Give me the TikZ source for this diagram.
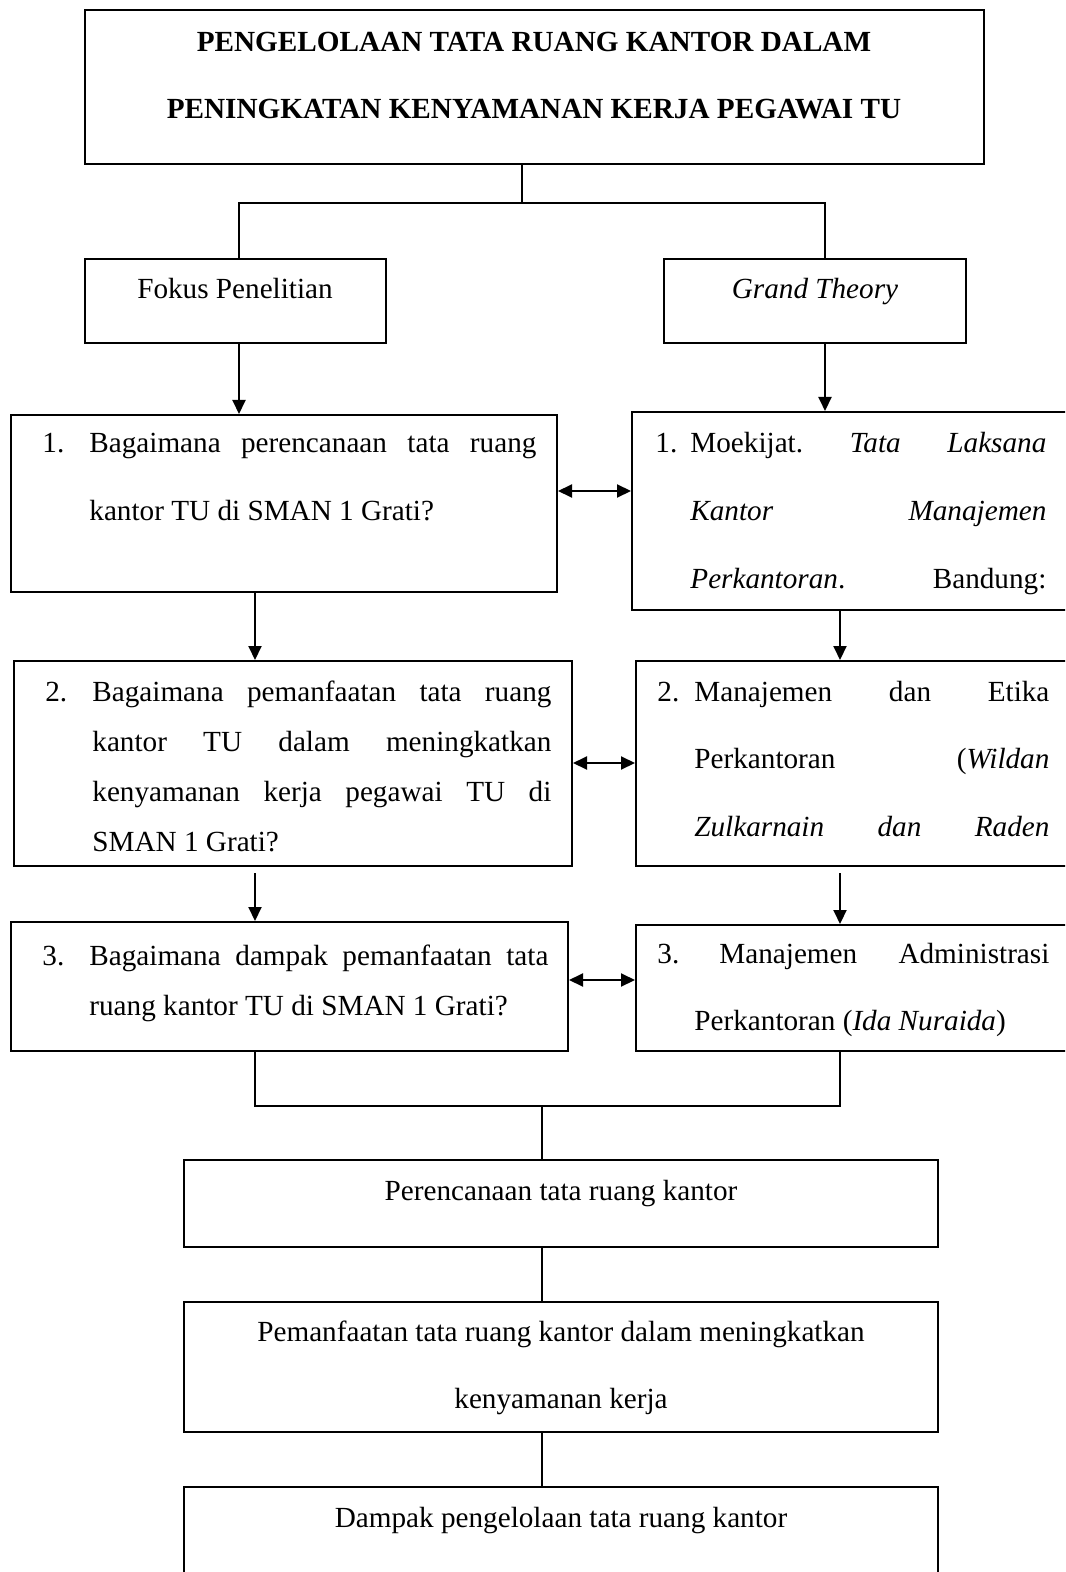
\documentclass[tikz,border=0pt]{standalone}
\usepackage{fontspec}
\setmainfont{Liberation Serif}
\usetikzlibrary{fit,arrows.meta}
\begin{document}
\begin{tikzpicture}[x=0.5pt,y=-0.5pt,
  box/.style={draw,line width=1pt,inner sep=0pt},
  txt/.style={inner sep=0pt,anchor=base west,yshift=-1pt,font=\fontsize{14.6pt}{17pt}\selectfont},
  ctxt/.style={txt,anchor=base},
  conn/.style={line width=1pt},
  arr/.style={conn,-{Triangle[length=7pt,width=6.5pt]}},
  darr/.style={conn,{Triangle[length=7pt,width=6.5pt]}-{Triangle[length=7pt,width=6.5pt]}}]
\fill[white] (0,0) rectangle (1065,1572);
\path[clip,use as bounding box] (0,0) rectangle (1065,1572);
% boxes
\node[box,line width=1.4pt,fit={(85,10)(984,164)}] (title) {};
\node[box,fit={(85,259)(386,343)}] (fokus) {};
\node[box,fit={(664,259)(966,343)}] (grand) {};
\node[box,fit={(11,415)(557,592)}] (l1) {};
\node[box,fit={(632,412)(1085,610)}] (r1) {};
\node[box,fit={(14,661)(572,866)}] (l2) {};
\node[box,fit={(636,661)(1085,866)}] (r2) {};
\node[box,fit={(11,922)(568,1051)}] (l3) {};
\node[box,fit={(636,925)(1085,1051)}] (r3) {};
\node[box,fit={(184,1160)(938,1247)}] (p1) {};
\node[box,fit={(184,1302)(938,1432)}] (p2) {};
\node[box,fit={(184,1487)(938,1600)}] (p3) {};
% coordinates
\coordinate (tj) at (522,203);
\coordinate (hl) at (239,203);
\coordinate (hr) at (825,203);
\coordinate (lx) at (255,0);
\coordinate (rx) at (840,0);
\coordinate (ls) at (255,873);
\coordinate (rs) at (840,873);
\coordinate (bl) at (255,1106);
\coordinate (br) at (840,1106);
\coordinate (bj) at (542,1106);
\coordinate (d1) at (0,491);
\coordinate (d2) at (0,763);
\coordinate (d3) at (0,980);
% connectors
\draw[conn] (title.south -| tj) -- (tj);
\draw[conn] (fokus.north -| hl) -- (hl) -- (hr) -- (grand.north -| hr);
\draw[arr] (fokus.south -| hl) -- (l1.north -| hl);
\draw[arr] (grand.south -| hr) -- (r1.north -| hr);
\draw[arr] (l1.south -| lx) -- (l2.north -| lx);
\draw[arr] (r1.south -| rx) -- (r2.north -| rx);
\draw[arr] (ls) -- (l3.north -| lx);
\draw[arr] (rs) -- (r3.north -| rx);
\draw[conn] (l3.south -| lx) -- (bl) -- (br) -- (r3.south -| rx);
\draw[conn] (bj) -- (p1.north -| bj);
\draw[conn] (p1.south -| bj) -- (p2.north -| bj);
\draw[conn] (p2.south -| bj) -- (p3.north -| bj);
\draw[darr] (l1.east |- d1) -- (r1.west |- d1);
\draw[darr] (l2.east |- d2) -- (r2.west |- d2);
\draw[darr] (l3.east |- d3) -- (r3.west |- d3);
% texts
\node[ctxt,font=\fontsize{14.6pt}{17pt}\selectfont\bfseries] (tt1) at (534,50) {PENGELOLAAN TATA RUANG KANTOR DALAM};
\node[ctxt,font=\fontsize{14.6pt}{17pt}\selectfont\bfseries] (tt2) at (534,117) {PENINGKATAN KENYAMANAN KERJA PEGAWAI TU};
\node[ctxt] (tf) at (235,297) {Fokus Penelitian};
\node[ctxt] (tg) at (815,297) {\textit{Grand Theory}};
% left 1
\node[txt] (a0) at (42,450) {1.};
\node[txt] (a1) at (89,450) {\hbox to 223.5pt{Bagaimana\hfill perencanaan\hfill tata\hfill ruang}};
\node[txt] (a2) at (89,518) {kantor TU di SMAN 1 Grati?};
% right 1
\node[txt] (b0) at (655,450) {1.};
\node[txt] (b1) at (690,450) {\hbox to 178pt{Moekijat.\hfill\textit{Tata}\hfill\textit{Laksana}}};
\node[txt] (b2) at (690,518) {\hbox to 178pt{\textit{Kantor}\hfill\textit{Manajemen}}};
\node[txt] (b3) at (690,586) {\hbox to 178pt{\textit{Perkantoran}.\hfill Bandung:}};
% left 2
\node[txt] (c0) at (45,699) {2.};
\node[txt] (c1) at (92,699) {\hbox to 229.5pt{Bagaimana\hfill pemanfaatan\hfill tata\hfill ruang}};
\node[txt] (c2) at (92,749) {\hbox to 229.5pt{kantor\hfill TU\hfill dalam\hfill meningkatkan}};
\node[txt] (c3) at (92,799) {\hbox to 229.5pt{kenyamanan\hfill kerja\hfill pegawai\hfill TU\hfill di}};
\node[txt] (c4) at (92,849) {SMAN 1 Grati?};
% right 2
\node[txt] (e0) at (657,699) {2.};
\node[txt] (e1) at (694,699) {\hbox to 177.5pt{Manajemen\hfill dan\hfill Etika}};
\node[txt] (e2) at (694,766) {\hbox to 177.5pt{Perkantoran\hfill(\textit{Wildan}}};
\node[txt] (e3) at (694,834) {\hbox to 177.5pt{\textit{Zulkarnain}\hfill\textit{dan}\hfill\textit{Raden}}};
% left 3
\node[txt] (f0) at (42,963) {3.};
\node[txt] (f1) at (89,963) {\hbox to 229.5pt{Bagaimana\hfill dampak\hfill pemanfaatan\hfill tata}};
\node[txt] (f2) at (89,1013) {ruang kantor TU di SMAN 1 Grati?};
% right 3
\node[txt] (g0) at (657,961) {3.};
\node[txt] (g1) at (719,961) {\hbox to 165pt{Manajemen\hfill Administrasi}};
\node[txt] (g2) at (694,1028) {Perkantoran (\textit{Ida Nuraida})};
% bottom
\node[ctxt] (h1) at (561,1198) {Perencanaan tata ruang kantor};
\node[ctxt] (h2) at (561,1339) {Pemanfaatan tata ruang kantor dalam meningkatkan};
\node[ctxt] (h3) at (561,1406) {kenyamanan kerja};
\node[ctxt] (h4) at (561,1525) {Dampak pengelolaan tata ruang kantor};
\end{tikzpicture}
\end{document}
